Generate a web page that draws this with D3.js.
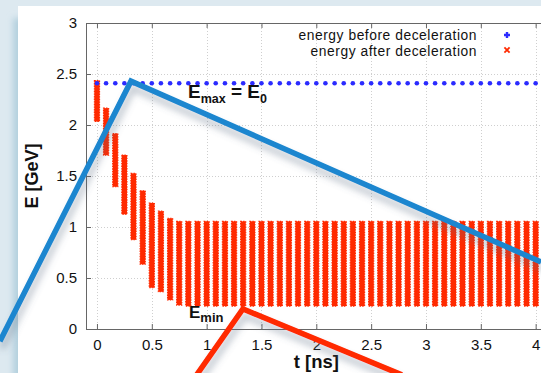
<!DOCTYPE html>
<html>
<head>
<meta charset="utf-8">
<script src="https://cdn.jsdelivr.net/npm/d3@7"></script>
<style>
  html, body { margin: 0; padding: 0; background: #dde9f0; }
  svg { display: block; }
  text { font-family: 'Liberation Sans', Arial, Helvetica, sans-serif; }
</style>
</head>
<body>
<svg id="chart" width="541" height="373"></svg>
<script>
// Bunch arrival times [ns] (12 GHz bunch train)
const bunchTimes = [
  0.000, 0.083, 0.167, 0.250, 0.333, 0.417, 0.500, 0.583, 0.667, 0.750,
  0.833, 0.917, 1.000, 1.083, 1.167, 1.250, 1.333, 1.417, 1.500, 1.583,
  1.667, 1.750, 1.833, 1.917, 2.000, 2.083, 2.167, 2.250, 2.333, 2.417,
  2.500, 2.583, 2.667, 2.750, 2.833, 2.917, 3.000, 3.083, 3.167, 3.250,
  3.333, 3.417, 3.500, 3.583, 3.667, 3.750, 3.833, 3.917, 4.000, 4.083
];
// Energy before deceleration [GeV]
const energyBefore = [
  2.41, 2.41, 2.41, 2.41, 2.41, 2.41, 2.41, 2.41, 2.41, 2.41,
  2.41, 2.41, 2.41, 2.41, 2.41, 2.41, 2.41, 2.41, 2.41, 2.41,
  2.41, 2.41, 2.41, 2.41, 2.41, 2.41, 2.41, 2.41, 2.41, 2.41,
  2.41, 2.41, 2.41, 2.41, 2.41, 2.41, 2.41, 2.41, 2.41, 2.41,
  2.41, 2.41, 2.41, 2.41, 2.41, 2.41, 2.41, 2.41, 2.41, 2.41
];
// Energy after deceleration: upper and lower edge of each bunch's spread [GeV]
const energyAfterMax = [
  2.41, 2.14, 1.89, 1.68, 1.50, 1.33, 1.21, 1.13, 1.06, 1.03,
  1.03, 1.03, 1.03, 1.03, 1.03, 1.03, 1.03, 1.03, 1.03, 1.03,
  1.03, 1.03, 1.03, 1.03, 1.03, 1.03, 1.03, 1.03, 1.03, 1.03,
  1.03, 1.03, 1.03, 1.03, 1.03, 1.03, 1.03, 1.03, 1.03, 1.03,
  1.03, 1.03, 1.03, 1.03, 1.03, 1.03, 1.03, 1.03, 1.03, 1.03
];
const energyAfterMin = [
  2.06, 1.73, 1.42, 1.15, 0.90, 0.66, 0.43, 0.39, 0.31, 0.26,
  0.25, 0.25, 0.25, 0.25, 0.25, 0.25, 0.25, 0.25, 0.25, 0.25,
  0.25, 0.25, 0.25, 0.25, 0.25, 0.25, 0.25, 0.25, 0.25, 0.25,
  0.25, 0.25, 0.25, 0.25, 0.25, 0.25, 0.25, 0.25, 0.25, 0.25,
  0.25, 0.25, 0.25, 0.25, 0.25, 0.25, 0.25, 0.25, 0.25, 0.25
];
const xTicks = [0, 0.5, 1, 1.5, 2, 2.5, 3, 3.5, 4];
const yTicks = [0, 0.5, 1, 1.5, 2, 2.5, 3];
const legendLabels = ["energy before deceleration", "energy after deceleration"];

// Callout lines, in data units (t [ns], E [GeV])
const maxCallout = [[-0.885, -0.12], [0.31, 2.43], [4.05, 0.657]];
const minCallout = [[0.909, -0.45], [1.331, 0.196], [2.78, -0.45]];

const svg = d3.select("#chart");
const W = 541, H = 373;

const x = d3.scaleLinear().domain([-0.1, 4.1]).range([86, 86 + 4.2 * 109.67]);
const y = d3.scaleLinear().domain([0, 3]).range([329, 23]);

const defs = svg.append("defs");
const bgBlur = defs.append("filter").attr("id", "panelShadow")
  .attr("x", "-10%").attr("y", "-10%").attr("width", "120%").attr("height", "120%");
bgBlur.append("feGaussianBlur").attr("stdDeviation", 3);

const sh = defs.append("filter").attr("id", "calloutShadow")
  .attr("filterUnits", "userSpaceOnUse")
  .attr("x", -20).attr("y", -20).attr("width", W + 40).attr("height", H + 40);
sh.append("feGaussianBlur").attr("in", "SourceAlpha").attr("stdDeviation", 3.5).attr("result", "b");
sh.append("feOffset").attr("in", "b").attr("dx", 2).attr("dy", 7).attr("result", "o");
sh.append("feFlood").attr("flood-color", "#56687f").attr("flood-opacity", 0.4).attr("result", "c");
sh.append("feComposite").attr("in", "c").attr("in2", "o").attr("operator", "in").attr("result", "s");
const mg = sh.append("feMerge");
mg.append("feMergeNode").attr("in", "s");
mg.append("feMergeNode").attr("in", "SourceGraphic");

// Page background and white panel
svg.append("rect").attr("width", W).attr("height", H).attr("fill", "#dde9f0");
svg.append("rect").attr("x", 13).attr("y", 18).attr("width", W).attr("height", H)
  .attr("fill", "#b4d0de").attr("filter", "url(#panelShadow)");
svg.append("rect").attr("x", 18).attr("y", 6).attr("width", W).attr("height", H).attr("fill", "#ffffff");

// Grid
const grid = svg.append("g").attr("stroke", "#cfcfcf").attr("stroke-width", 1)
  .attr("stroke-dasharray", "1,2");
grid.selectAll("line.gx").data(xTicks).join("line")
  .attr("x1", d => Math.round(x(d)) + 0.5).attr("x2", d => Math.round(x(d)) + 0.5)
  .attr("y1", y(0)).attr("y2", y(3));
grid.selectAll("line.gy").data(yTicks.filter(d => d > 0 && d < 3)).join("line")
  .attr("x1", x(-0.1)).attr("x2", W)
  .attr("y1", d => Math.round(y(d)) + 0.5).attr("y2", d => Math.round(y(d)) + 0.5);

// Energy after deceleration: red spread per bunch
const red = "#ff2a00";
svg.append("g").selectAll("rect").data(bunchTimes).join("rect")
  .attr("x", d => x(d) - 2.6)
  .attr("width", 5.2)
  .attr("y", (d, i) => y(energyAfterMax[i]) - 2.6)
  .attr("height", (d, i) => y(energyAfterMin[i]) - y(energyAfterMax[i]) + 5.2)
  .attr("fill", red)
  .attr("stroke", red).attr("stroke-width", 1.1).attr("stroke-dasharray", "1.4,1.2");

// Energy before deceleration: blue points
svg.append("g").selectAll("circle").data(bunchTimes).join("circle")
  .attr("cx", d => x(d)).attr("cy", (d, i) => y(energyBefore[i]))
  .attr("r", 2.3).attr("fill", "#2b2bff");

// Axes (gnuplot-like, ticks inward and mirrored on top)
const axisColor = "#666";
const fmt = d3.format("");
function styleAxis(g) {
  g.selectAll("path.domain").attr("stroke", axisColor);
  g.selectAll(".tick line").attr("stroke", axisColor);
  g.selectAll(".tick text").attr("fill", "#111").style("font-size", "15px")
    .style("font-family", "'Liberation Sans', Arial, sans-serif");
}
svg.append("g").attr("transform", `translate(${x(-0.1)},0)`)
  .call(d3.axisLeft(y).tickValues(yTicks).tickFormat(fmt).tickSize(-5).tickSizeOuter(0).tickPadding(9))
  .call(styleAxis);
svg.append("g").attr("transform", `translate(0,${y(0)})`)
  .call(d3.axisBottom(x).tickValues(xTicks).tickFormat(fmt).tickSize(-5).tickSizeOuter(0).tickPadding(10))
  .call(styleAxis);
svg.append("g").attr("transform", `translate(0,${y(3)})`)
  .call(d3.axisTop(x).tickValues(xTicks).tickFormat("").tickSize(-5).tickSizeOuter(0))
  .call(styleAxis);

// Axis titles
svg.append("text").attr("transform", "translate(38,176) rotate(-90)")
  .attr("text-anchor", "middle").attr("font-weight", "bold").attr("font-size", 18)
  .attr("fill", "#111").text("E [GeV]");
svg.append("text").attr("x", x(2)).attr("y", 368)
  .attr("text-anchor", "middle").attr("font-weight", "bold").attr("font-size", 18.5)
  .attr("fill", "#111").text("t [ns]");

// Legend
const lg = svg.append("g");
lg.selectAll("text").data(legendLabels).join("text")
  .attr("x", 477).attr("y", (d, i) => 39.5 + i * 16)
  .attr("text-anchor", "end").attr("font-size", 13.8).attr("letter-spacing", 0.55)
  .attr("fill", "#111").text(d => d);
lg.append("path").attr("transform", "translate(507,35)")
  .attr("d", "M-3,0H3M0,-3V3").attr("stroke", "#2b2bff").attr("stroke-width", 2.4);
lg.append("path").attr("transform", "translate(507,50)")
  .attr("d", "M-2.6,-2.6L2.6,2.6M-2.6,2.6L2.6,-2.6").attr("stroke", red).attr("stroke-width", 1.8);

// Callouts
const line = d3.line().x(d => x(d[0])).y(d => y(d[1]));
svg.append("path").datum(maxCallout).attr("d", line)
  .attr("fill", "none").attr("stroke", "#1a86cf").attr("stroke-width", 5.5)
  .attr("stroke-linejoin", "miter").attr("filter", "url(#calloutShadow)");

// E_max = E_0 label
const tMax = svg.append("text").attr("x", 188).attr("y", 97.5)
  .attr("font-weight", "bold").attr("font-size", 19).attr("fill", "#111");
tMax.append("tspan").text("E");
tMax.append("tspan").attr("font-size", 12.5).attr("dy", 5).text("max");
tMax.append("tspan").attr("dy", -5).text(" = E");
tMax.append("tspan").attr("font-size", 12.5).attr("dy", 5).text("0");

// E_min label
const tMin = svg.append("text").attr("x", 189).attr("y", 318)
  .attr("font-weight", "bold").attr("font-size", 17).attr("fill", "#111");
tMin.append("tspan").text("E");
tMin.append("tspan").attr("font-size", 13).attr("dy", 4).text("min");

svg.append("path").datum(minCallout).attr("d", line)
  .attr("fill", "none").attr("stroke", "#ff2a00").attr("stroke-width", 5.5)
  .attr("stroke-linejoin", "miter").attr("filter", "url(#calloutShadow)");
</script>
</body>
</html>
